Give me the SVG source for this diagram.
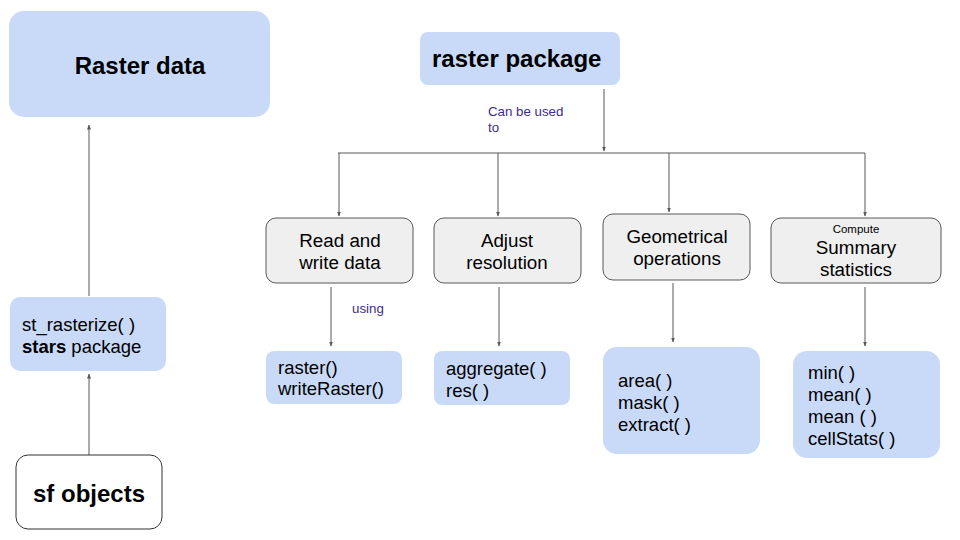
<svg xmlns="http://www.w3.org/2000/svg" width="960" height="540" viewBox="0 0 960 540">
<style>
.blue{fill:#c9daf8}
.grey{fill:#efefef;stroke:#595959;stroke-width:1}
.white{fill:#ffffff;stroke:#333333;stroke-width:1}
text{font-family:"Liberation Sans",Arial,sans-serif;fill:#000}
.big{font-size:24px;font-weight:bold}
.mid{font-size:18.8px}
.sm{font-size:18.5px}
.lbl{font-size:13.3px;fill:#3d2b8c}
.c{text-anchor:middle}
.conn{stroke:#595959;stroke-width:1;fill:none}
</style>
<defs>
<marker id="ah" viewBox="0 0 10 10" refX="9" refY="5" markerWidth="5" markerHeight="5" orient="auto">
<path d="M0,1 L10,5 L0,9 z" fill="#595959"/>
</marker>
</defs>
<g id="connectors">
<line class="conn" x1="89" y1="296" x2="89" y2="125" marker-end="url(#ah)"/>
<line class="conn" x1="89" y1="455" x2="89" y2="374" marker-end="url(#ah)"/>
<line class="conn" x1="604" y1="89" x2="604" y2="151" marker-end="url(#ah)"/>
<line class="conn" x1="338" y1="153" x2="865" y2="153"/>
<line class="conn" x1="339" y1="153" x2="339" y2="216" marker-end="url(#ah)"/>
<line class="conn" x1="498" y1="153" x2="498" y2="216" marker-end="url(#ah)"/>
<line class="conn" x1="669" y1="153" x2="669" y2="212" marker-end="url(#ah)"/>
<line class="conn" x1="865" y1="153" x2="865" y2="216" marker-end="url(#ah)"/>
<line class="conn" x1="331" y1="287" x2="331" y2="346" marker-end="url(#ah)"/>
<line class="conn" x1="499" y1="287" x2="499" y2="346" marker-end="url(#ah)"/>
<line class="conn" x1="673" y1="283" x2="673" y2="342" marker-end="url(#ah)"/>
<line class="conn" x1="865" y1="287" x2="865" y2="346" marker-end="url(#ah)"/>
<text class="lbl" x="488" y="116">Can be used</text>
<text class="lbl" x="488" y="132">to</text>
<text class="lbl" x="352" y="313">using</text>
</g>
<g id="raster-data">
<rect class="blue" x="9" y="11" width="261" height="106" rx="15"/>
<text class="big c" x="140" y="74">Raster data</text>
</g>
<g id="st-rasterize">
<rect class="blue" x="10" y="297" width="156" height="74" rx="10"/>
<text class="sm" x="22" y="331">st_rasterize( )</text>
<text class="sm" x="22" y="353"><tspan font-weight="bold">stars</tspan> package</text>
</g>
<g id="sf-objects">
<rect class="white" x="16" y="455" width="146" height="74" rx="12"/>
<text class="big c" x="89" y="502">sf objects</text>
</g>
<g id="raster-package">
<rect class="blue" x="420" y="32" width="200" height="53" rx="8"/>
<text class="big" x="432" y="67">raster package</text>
</g>
<g id="read-write">
<rect class="grey" x="266" y="218" width="147" height="65" rx="10"/>
<text class="mid c" x="340" y="247">Read and</text>
<text class="mid c" x="340" y="269">write data</text>
</g>
<g id="adjust-resolution">
<rect class="grey" x="434" y="218" width="147" height="65" rx="10"/>
<text class="mid c" x="507" y="247">Adjust</text>
<text class="mid c" x="507" y="269">resolution</text>
</g>
<g id="geometrical">
<rect class="grey" x="603" y="214" width="147" height="66" rx="10"/>
<text class="mid c" x="677" y="243">Geometrical</text>
<text class="mid c" x="677" y="265">operations</text>
</g>
<g id="summary">
<rect class="grey" x="771" y="218" width="170" height="65" rx="10"/>
<text class="c" x="856" y="233" font-size="11.5">Compute</text>
<text class="mid c" x="856" y="254">Summary</text>
<text class="mid c" x="856" y="276">statistics</text>
</g>
<g id="raster-fns">
<rect class="blue" x="266" y="351" width="136" height="53" rx="8"/>
<text class="sm" x="278" y="374">raster()</text>
<text class="sm" x="278" y="395">writeRaster()</text>
</g>
<g id="aggregate-fns">
<rect class="blue" x="434" y="351" width="136" height="54" rx="8"/>
<text class="sm" x="446" y="375">aggregate( )</text>
<text class="sm" x="446" y="397">res( )</text>
</g>
<g id="geom-fns">
<rect class="blue" x="603" y="347" width="157" height="107" rx="14"/>
<text class="sm" x="618" y="387">area( )</text>
<text class="sm" x="618" y="409">mask( )</text>
<text class="sm" x="618" y="431">extract( )</text>
</g>
<g id="stat-fns">
<rect class="blue" x="793" y="351" width="147" height="107" rx="14"/>
<text class="sm" x="808" y="379">min( )</text>
<text class="sm" x="808" y="401">mean( )</text>
<text class="sm" x="808" y="423">mean ( )</text>
<text class="sm" x="808" y="445">cellStats( )</text>
</g>
</svg>
